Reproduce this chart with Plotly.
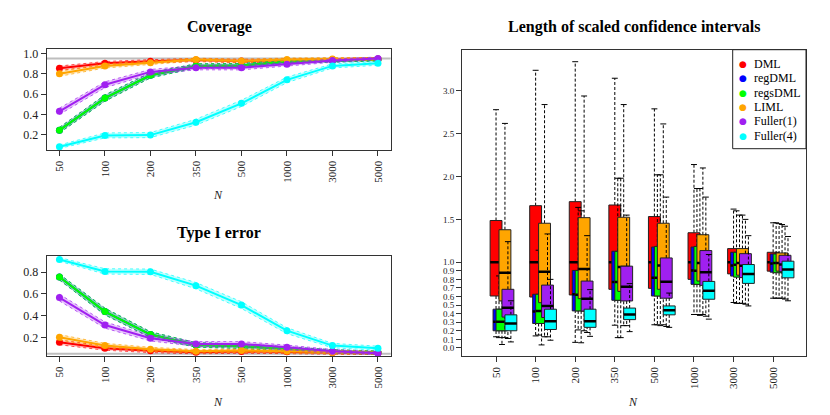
import numpy as np
import plotly.graph_objects as go

# sample sizes and methods
n_labels = ["50", "100", "200", "350", "500", "1000", "3000", "5000"]
methods = ["DML", "regDML", "regsDML", "LIML", "Fuller(1)", "Fuller(4)"]
colors = ["#FF0000", "#0000FF", "#00FF00", "#FFA500", "#A020F0", "#00FFFF"]
n_rep = 1000  # simulation runs, used for the binomial bands

# coverage
cov_dml = [0.854, 0.902, 0.922, 0.935, 0.925, 0.930, 0.940, 0.945]
cov_regdml = [0.246, 0.561, 0.785, 0.877, 0.880, 0.918, 0.930, 0.940]
cov_regsdml = [0.246, 0.561, 0.785, 0.877, 0.880, 0.920, 0.930, 0.940]
cov_liml = [0.800, 0.877, 0.909, 0.940, 0.926, 0.940, 0.945, 0.945]
cov_fuller1 = [0.431, 0.692, 0.818, 0.860, 0.860, 0.893, 0.929, 0.951]
cov_fuller4 = [0.083, 0.194, 0.197, 0.324, 0.509, 0.740, 0.877, 0.902]

# type I error
err_dml = [0.154, 0.100, 0.076, 0.063, 0.070, 0.068, 0.060, 0.055]
err_regdml = [0.754, 0.437, 0.225, 0.130, 0.118, 0.094, 0.070, 0.060]
err_regsdml = [0.754, 0.437, 0.225, 0.130, 0.118, 0.094, 0.070, 0.060]
err_liml = [0.200, 0.124, 0.090, 0.072, 0.078, 0.072, 0.060, 0.058]
err_fuller1 = [0.565, 0.313, 0.191, 0.139, 0.139, 0.109, 0.072, 0.054]
err_fuller4 = [0.916, 0.806, 0.803, 0.675, 0.496, 0.261, 0.124, 0.100]

# scaled CI length: whisker ends, quartiles, medians
dml_lo = [0.13, 0.14, 0.065, 0.265, 0.27, 0.39, 0.53, 0.58]
dml_q1 = [0.606, 0.594, 0.618, 0.684, 0.695, 0.80, 0.864, 0.896]
dml_med = [1.0, 1.0, 1.0, 1.0, 1.0, 1.0, 1.0, 1.0]
dml_q3 = [1.487, 1.66, 1.707, 1.668, 1.533, 1.344, 1.159, 1.116]
dml_hi = [2.78, 3.24, 3.34, 3.147, 2.79, 2.14, 1.62, 1.46]

regdml_lo = [0.12, 0.15, 0.21, 0.12, 0.27, 0.39, 0.52, 0.58]
regdml_q1 = [0.20, 0.285, 0.432, 0.556, 0.606, 0.742, 0.838, 0.884]
regdml_med = [0.305, 0.424, 0.626, 0.77, 0.818, 0.904, 0.962, 0.985]
regdml_q3 = [0.452, 0.626, 0.904, 1.128, 1.177, 1.177, 1.116, 1.096]
regdml_hi = [0.84, 1.14, 1.64, 1.98, 2.02, 1.86, 1.60, 1.46]

regsdml_lo = [0.04, 0.035, 0.06, 0.12, 0.26, 0.38, 0.52, 0.58]
regsdml_q1 = [0.20, 0.285, 0.432, 0.556, 0.606, 0.742, 0.826, 0.877]
regsdml_med = [0.305, 0.43, 0.62, 0.77, 0.818, 0.90, 0.97, 0.99]
regsdml_q3 = [0.452, 0.626, 0.904, 1.127, 1.185, 1.185, 1.116, 1.096]
regsdml_hi = [0.80, 1.10, 1.60, 1.98, 2.02, 1.86, 1.55, 1.45]

liml_lo = [0.12, 0.13, 0.20, 0.26, 0.27, 0.39, 0.52, 0.58]
liml_q1 = [0.548, 0.528, 0.575, 0.66, 0.684, 0.78, 0.849, 0.896]
liml_med = [0.876, 0.888, 0.922, 0.944, 0.962, 0.99, 0.992, 0.99]
liml_q3 = [1.379, 1.455, 1.52, 1.525, 1.455, 1.321, 1.159, 1.108]
liml_hi = [2.62, 2.84, 2.94, 2.84, 2.614, 2.10, 1.55, 1.44]

fuller1_lo = [0.11, 0.13, 0.18, 0.26, 0.25, 0.37, 0.51, 0.57]
fuller1_q1 = [0.36, 0.355, 0.43, 0.548, 0.58, 0.73, 0.82, 0.89]
fuller1_med = [0.47, 0.49, 0.575, 0.714, 0.772, 0.884, 0.96, 0.973]
fuller1_q3 = [0.684, 0.733, 0.78, 0.954, 1.05, 1.136, 1.10, 1.081]
fuller1_hi = [1.24, 1.33, 1.31, 1.55, 1.76, 1.76, 1.50, 1.42]

fuller4_lo = [0.07, 0.09, 0.135, 0.19, 0.24, 0.336, 0.49, 0.55]
fuller4_q1 = [0.20, 0.215, 0.24, 0.33, 0.386, 0.568, 0.753, 0.818]
fuller4_med = [0.285, 0.31, 0.31, 0.39, 0.44, 0.668, 0.864, 0.915]
fuller4_q3 = [0.386, 0.452, 0.452, 0.465, 0.49, 0.776, 0.973, 1.012]
fuller4_hi = [0.55, 0.80, 0.68, 0.75, 0.64, 1.09, 1.31, 1.30]

coverage = [cov_dml, cov_regdml, cov_regsdml, cov_liml, cov_fuller1, cov_fuller4]
type1 = [err_dml, err_regdml, err_regsdml, err_liml, err_fuller1, err_fuller4]
boxes = [
    (dml_lo, dml_q1, dml_med, dml_q3, dml_hi),
    (regdml_lo, regdml_q1, regdml_med, regdml_q3, regdml_hi),
    (regsdml_lo, regsdml_q1, regsdml_med, regsdml_q3, regsdml_hi),
    (liml_lo, liml_q1, liml_med, liml_q3, liml_hi),
    (fuller1_lo, fuller1_q1, fuller1_med, fuller1_q3, fuller1_hi),
    (fuller4_lo, fuller4_q1, fuller4_med, fuller4_q3, fuller4_hi),
]

FONT = "Liberation Serif"
W, H = 830, 415
OFF = 8  # the page body adds an 8px margin, positions below are in screen pixels


def rgba(hexcol, a):
    h = hexcol.lstrip("#")
    return "rgba(%d,%d,%d,%s)" % (int(h[0:2], 16), int(h[2:4], 16), int(h[4:6], 16), a)


def px_x(v):
    return (v - OFF) / W


def px_y(v):
    return 1 - (v - OFF) / H


fig = go.Figure()
xpos = np.arange(len(n_labels))

# left panels: lines with binomial bands
for vals_list, xa, ya in [(coverage, "x", "y"), (type1, "x2", "y2")]:
    for vals, col in zip(vals_list, colors):
        p = np.array(vals)
        half = 1.96 * np.sqrt(p * (1 - p) / n_rep)
        up, lo = p + half, p - half
        fig.add_trace(go.Scatter(
            x=np.concatenate([xpos, xpos[::-1]]), y=np.concatenate([up, lo[::-1]]),
            fill="toself", fillcolor=rgba(col, 0.25), line=dict(width=0),
            mode="lines", xaxis=xa, yaxis=ya, hoverinfo="skip", showlegend=False))
        for edge in (up, lo):
            fig.add_trace(go.Scatter(
                x=xpos, y=edge, mode="lines", line=dict(color=rgba(col, 0.7), width=1, dash="dot"),
                xaxis=xa, yaxis=ya, hoverinfo="skip", showlegend=False))
        fig.add_trace(go.Scatter(
            x=xpos, y=p, mode="lines+markers", line=dict(color=col, width=2),
            marker=dict(size=7, color=col), xaxis=xa, yaxis=ya, showlegend=False))

# right panel: boxplots drawn per method (whiskers, caps, box, median)
off, hw, cw = 0.075, 0.15, 0.075
for k, ((lo, q1, med, q3, hi), col) in enumerate(zip(boxes, colors)):
    c = xpos + k * off
    wx, wy, cx, cy, bx, by, mx, my = [], [], [], [], [], [], [], []
    for i in range(len(c)):
        wx += [c[i], c[i], None, c[i], c[i], None]
        wy += [q3[i], hi[i], None, q1[i], lo[i], None]
        cx += [c[i] - cw, c[i] + cw, None, c[i] - cw, c[i] + cw, None]
        cy += [hi[i], hi[i], None, lo[i], lo[i], None]
        bx += [c[i] - hw, c[i] + hw, c[i] + hw, c[i] - hw, c[i] - hw, None]
        by += [q1[i], q1[i], q3[i], q3[i], q1[i], None]
        mx += [c[i] - hw, c[i] + hw, None]
        my += [med[i], med[i], None]
    fig.add_trace(go.Scatter(x=wx, y=wy, mode="lines", line=dict(color="black", width=1, dash="3px,2px"),
                             xaxis="x3", yaxis="y3", hoverinfo="skip", showlegend=False))
    fig.add_trace(go.Scatter(x=cx, y=cy, mode="lines", line=dict(color="black", width=1),
                             xaxis="x3", yaxis="y3", hoverinfo="skip", showlegend=False))
    fig.add_trace(go.Scatter(x=bx, y=by, mode="lines", fill="toself", fillcolor=col,
                             line=dict(color="#222", width=1), name=methods[k],
                             xaxis="x3", yaxis="y3", showlegend=False))
    fig.add_trace(go.Scatter(x=mx, y=my, mode="lines", line=dict(color="black", width=2.5),
                             xaxis="x3", yaxis="y3", hoverinfo="skip", showlegend=False))


axis_common = dict(showline=True, mirror=True, linecolor="#333", linewidth=1, ticks="outside",
                   ticklen=5, tickcolor="#333", showgrid=False, zeroline=False,
                   tickfont=dict(family=FONT, size=12, color="#222"))
xtick_font = dict(family=FONT, size=11, color="#222")

fig.update_layout(
    width=W, height=H, margin=dict(l=0, r=0, t=0, b=0),
    paper_bgcolor="white", plot_bgcolor="white",
    xaxis=dict(axis_common, domain=[px_x(46.7), px_x(390.7)], range=[-0.28, 7.28], anchor="y",
               tickvals=list(xpos), ticktext=n_labels, tickangle=-90, tickfont=xtick_font),
    yaxis=dict(axis_common, domain=[px_y(148.3), px_y(46.7)], range=[0.048, 1.039], anchor="x",
               tickvals=[0.2, 0.4, 0.6, 0.8, 1.0], ticktext=["0.2", "0.4", "0.6", "0.8", "1.0"]),
    xaxis2=dict(axis_common, domain=[px_x(46.7), px_x(390.7)], range=[-0.28, 7.28], anchor="y2",
                tickvals=list(xpos), ticktext=n_labels, tickangle=-90, tickfont=xtick_font),
    yaxis2=dict(axis_common, domain=[px_y(355.7), px_y(254.3)], range=[0.0265, 0.952], anchor="x2",
                tickvals=[0.2, 0.4, 0.6, 0.8], ticktext=["0.2", "0.4", "0.6", "0.8"]),
    xaxis3=dict(axis_common, domain=[px_x(462), px_x(806)], range=[-0.86, 7.83], anchor="y3",
                tickvals=list(xpos), ticktext=n_labels, tickangle=-90, tickfont=xtick_font),
    yaxis3=dict(axis_common, domain=[px_y(356), px_y(47)], range=[-0.10, 3.48], anchor="x3",
                tickvals=[0, 0.1, 0.2, 0.3, 0.4, 0.5, 0.6, 0.7, 0.8, 0.9, 1.0, 1.5, 2.0, 2.5, 3.0],
                ticktext=["0.0", "0.1", "0.2", "0.3", "0.4", "0.5", "0.6", "0.7", "0.8", "0.9",
                          "1.0", "1.5", "2.0", "2.5", "3.0"],
                tickfont=dict(family=FONT, size=9, color="#222")),
)

# reference lines (nominal level)
fig.add_shape(type="line", xref="x domain", yref="y", x0=0, x1=1, y0=0.95, y1=0.95,
              line=dict(color="#BEBEBE", width=2), layer="below")
fig.add_shape(type="line", xref="x2 domain", yref="y2", x0=0, x1=1, y0=0.05, y1=0.05,
              line=dict(color="#BEBEBE", width=2), layer="below")

# titles and axis labels
for txt, x, y in [("Coverage", 219, 24), ("Type I error", 219, 232),
                  ("Length of scaled confidence intervals", 634, 24)]:
    fig.add_annotation(text="<b>%s</b>" % txt, x=px_x(x), y=px_y(y), xref="paper", yref="paper",
                       xanchor="center", yanchor="middle", showarrow=False,
                       font=dict(family=FONT, size=16, color="black"))
for x, y in [(218, 193), (218, 402), (633, 402)]:
    fig.add_annotation(text="<i>N</i>", x=px_x(x), y=px_y(y), xref="paper", yref="paper",
                       xanchor="center", yanchor="middle", showarrow=False,
                       font=dict(family=FONT, size=12, color="#222"))

# legend box
fig.add_shape(type="rect", xref="paper", yref="paper", x0=px_x(732.7), x1=px_x(806),
              y0=px_y(146.7), y1=px_y(47), line=dict(color="#222", width=1), fillcolor="white")
for j, (m, col) in enumerate(zip(methods, colors)):
    yy = 61.3 + j * 14.5
    fig.add_annotation(text="●", x=px_x(743.3), y=px_y(yy), xref="paper", yref="paper",
                       xanchor="center", yanchor="middle", showarrow=False,
                       font=dict(family="DejaVu Sans", size=9, color=col))
    fig.add_annotation(text=m, x=px_x(752), y=px_y(yy), xref="paper", yref="paper",
                       xanchor="left", yanchor="middle", showarrow=False,
                       font=dict(family=FONT, size=12, color="black"))

fig.write_html("out.html")
